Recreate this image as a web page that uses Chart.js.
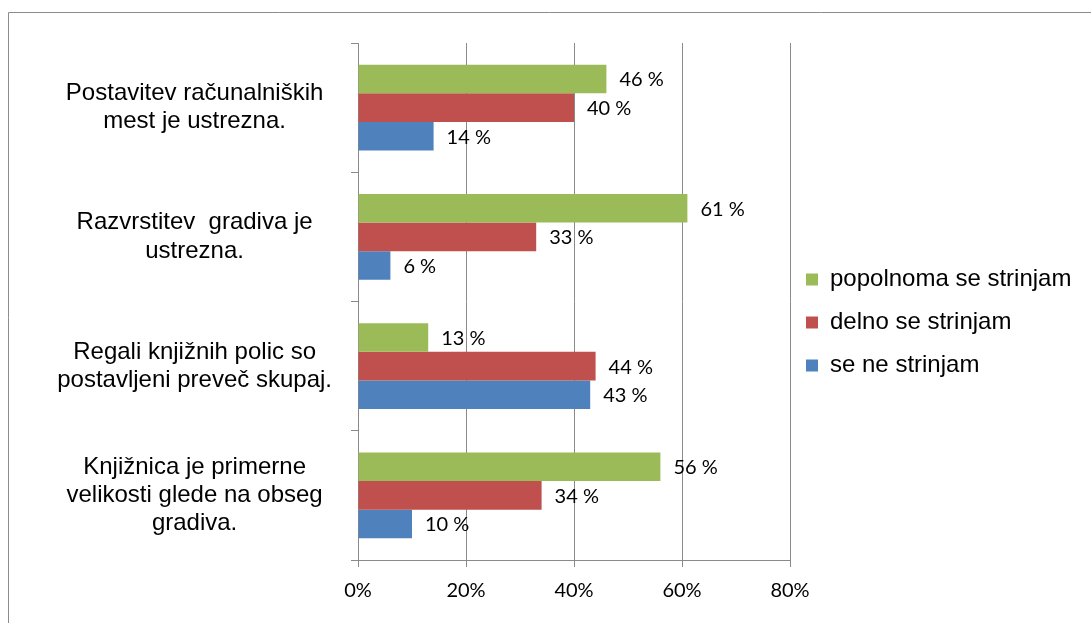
<!DOCTYPE html>
<html><head><meta charset="utf-8">
<script src="https://cdn.jsdelivr.net/npm/chart.js@4.4.1/dist/chart.umd.min.js"></script>
<style>html,body{margin:0;padding:0;background:#fff;} canvas{display:block;}</style>
</head><body>
<canvas id="c" width="1091" height="623"></canvas>
<script>
const categories = [
  ["Postavitev računalniških", "mest je ustrezna."],
  ["Razvrstitev  gradiva je", "ustrezna."],
  ["Regali knjižnih polic so", "postavljeni preveč skupaj."],
  ["Knjižnica je primerne", "velikosti glede na obseg", "gradiva."]
];
const seriesNames = ["popolnoma se strinjam", "delno se strinjam", "se ne strinjam"];
const popolnoma = [46, 61, 13, 56];
const delno = [40, 33, 44, 34];
const neStrinjam = [14, 6, 43, 10];
const xTickValues = [0, 20, 40, 60, 80];
const seriesColors = ["#9BBB59", "#C0504D", "#4F81BD"];

const gridColor = '#8a8a8a';

const valueLabels = {
  id: 'valueLabels',
  afterDatasetsDraw(chart) {
    const ctx = chart.ctx;
    ctx.save();
    ctx.font = '20px Lato';
    ctx.fillStyle = '#000';
    ctx.textBaseline = 'middle';
    ctx.textAlign = 'left';
    chart.data.datasets.forEach((ds, i) => {
      const meta = chart.getDatasetMeta(i);
      meta.data.forEach((bar, j) => {
        ctx.fillText(ds.data[j] + ' %', bar.x + 13, bar.y + 1);
      });
    });
    ctx.restore();
  }
};

const frame = {
  id: 'frame',
  beforeDraw(chart) {
    const ctx = chart.ctx;
    ctx.save();
    ctx.strokeStyle = '#8c8c8c';
    ctx.lineWidth = 1;
    ctx.beginPath();
    ctx.moveTo(8.5, 623);
    ctx.lineTo(8.5, 12.5);
    ctx.lineTo(1091, 12.5);
    ctx.stroke();
    ctx.restore();
  }
};

const legendWidth = {
  id: 'legendWidth',
  beforeLayout(chart) {
    const lg = chart.legend;
    if (lg && !lg.__patched) {
      const f = lg.fit;
      lg.fit = function () { f.call(this); this.width = 301; };
      lg.__patched = true;
    }
  },
  afterLayout(chart) {
    const lg = chart.legend;
    if (lg) { lg.left -= 3; lg.right -= 3; }
  }
};

new Chart(document.getElementById('c'), {
  type: 'bar',
  data: {
    labels: categories,
    datasets: [
      { label: seriesNames[0], data: popolnoma, backgroundColor: seriesColors[0] },
      { label: seriesNames[1], data: delno, backgroundColor: seriesColors[1] },
      { label: seriesNames[2], data: neStrinjam, backgroundColor: seriesColors[2] }
    ]
  },
  options: {
    indexAxis: 'y',
    responsive: false,
    animation: false,
    devicePixelRatio: 1,
    layout: { padding: { top: 43, bottom: 21, left: 0, right: 0 } },
    datasets: { bar: { barPercentage: 1, categoryPercentage: 0.665, borderWidth: 0 } },
    scales: {
      x: {
        min: xTickValues[0],
        max: xTickValues[xTickValues.length - 1],
        ticks: {
          stepSize: xTickValues[1] - xTickValues[0],
          callback: v => v + '%',
          font: { family: 'Lato', size: 20 },
          color: '#000',
          padding: 12
        },
        grid: { color: gridColor, tickLength: 7, drawTicks: true },
        border: { color: gridColor },
        afterFit(s) { s.height = 42; s.paddingLeft = 0; s.paddingRight = 0; }
      },
      y: {
        type: 'category',
        offset: true,
        grid: { offset: true, drawOnChartArea: false, drawTicks: true, tickLength: 7, color: gridColor },
        border: { display: true, color: gridColor },
        ticks: {
          font: { family: 'Liberation Sans', size: 24, lineHeight: 1.17 },
          color: '#000',
          padding: 19,
          crossAlign: 'center',
          autoSkip: false
        },
        afterFit(s) { s.width = 358; s.paddingTop = 0; s.paddingBottom = 0; }
      }
    },
    plugins: {
      legend: {
        position: 'right',
        align: 'center',
        labels: {
          boxWidth: 12,
          boxHeight: 12,
          padding: 19,
          font: { family: 'Liberation Sans', size: 24 },
          color: '#000'
        }
      },
      tooltip: { enabled: false }
    }
  },
  plugins: [frame, valueLabels, legendWidth]
});
</script>
</body></html>
